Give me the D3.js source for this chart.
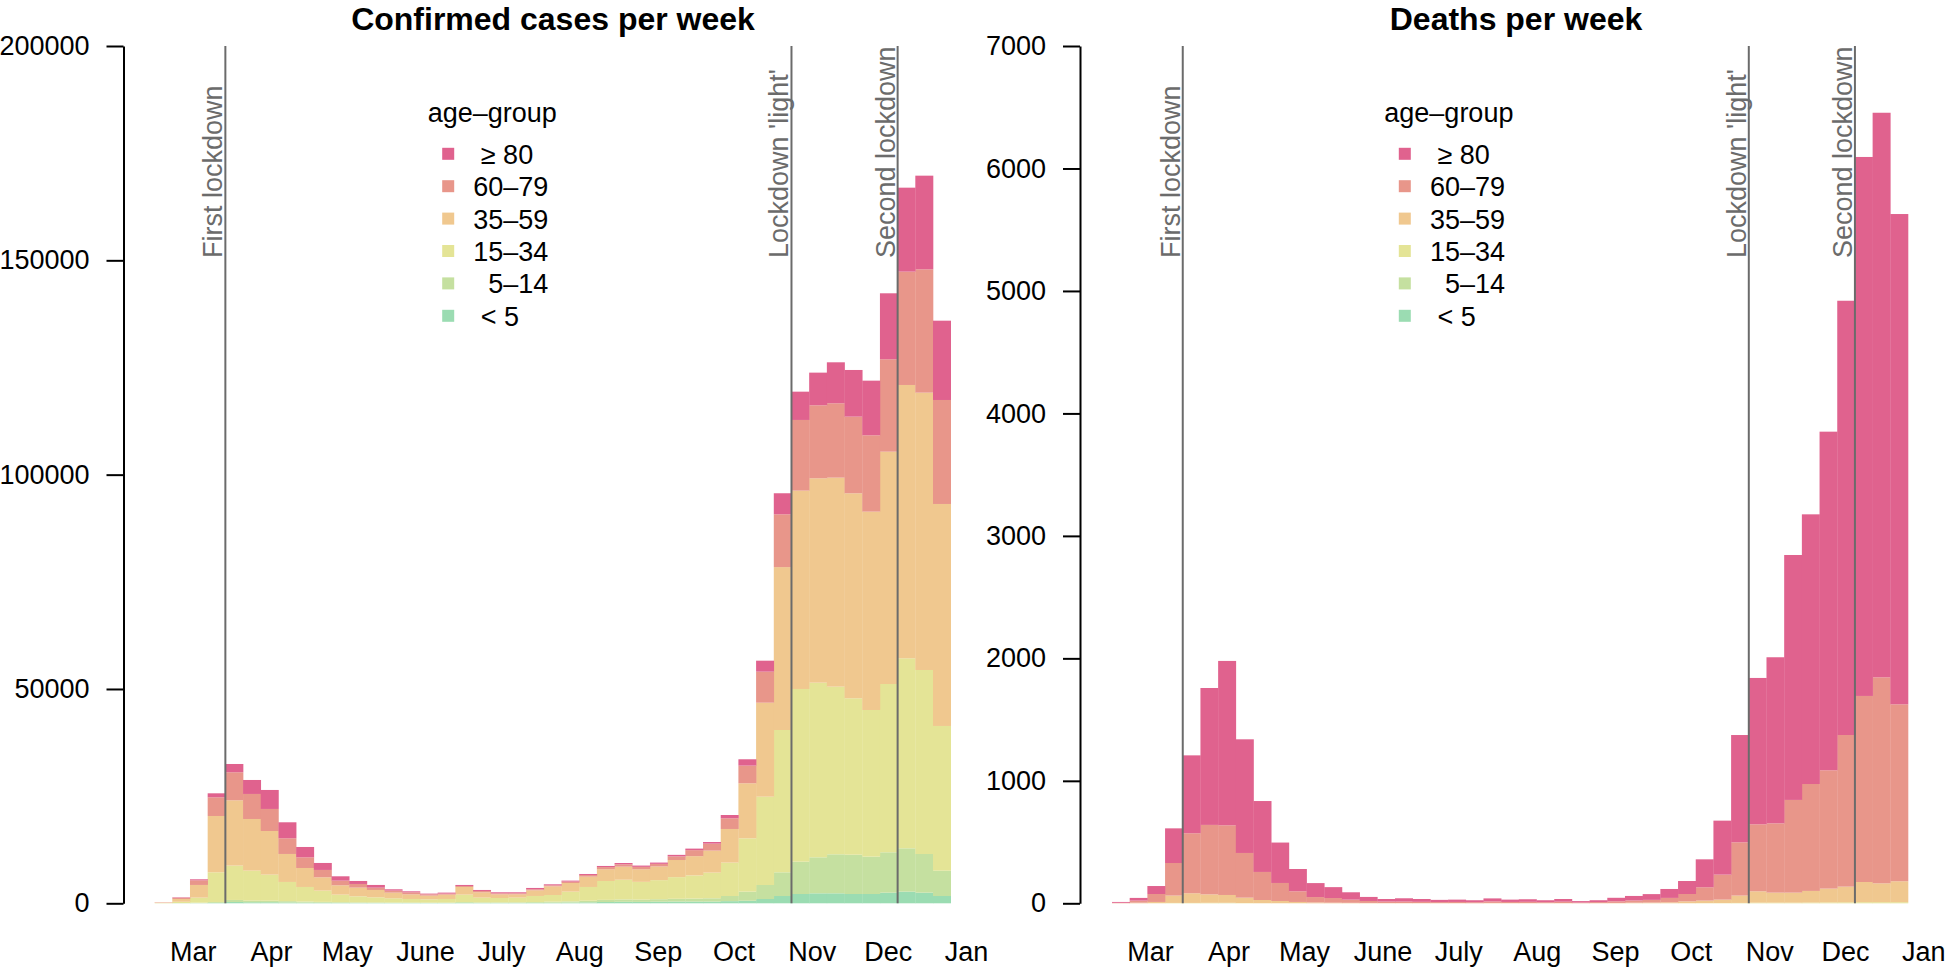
<!DOCTYPE html>
<html>
<head>
<meta charset="utf-8">
<script src="https://cdn.jsdelivr.net/npm/d3@7"></script>
<style>
  body { margin: 0; background: #fff; }
  svg text { font-family: "Liberation Sans", Arial, Helvetica, sans-serif; }
</style>
</head>
<body>
<svg id="chart" width="1946" height="969"></svg>
<script>

// calendar weeks 2020 (KW 9 .. KW 53)
var weeks = [9,10,11,12,13,14,15,16,17,18,19,20,21,22,23,24,25,26,27,28,29,30,31,
  32,33,34,35,36,37,38,39,40,41,42,43,44,45,46,47,48,49,50,51,52,53];

var ageGroups = ["u5", "a5_14", "a15_34", "a35_59", "a60_79", "a80"];
var ageLabels = [" < 5", "  5\u201314", "15\u201334", "35\u201359", "60\u201379", " \u2265 80"];
var ageColors = ["#9bdcb2", "#c5e0a0", "#e4e496", "#f0c88f", "#e8968a", "#e0628e"];

// confirmed cases per week, by age group
var casesU5 = [0,20,40,100,300,250,250,200,170,140,110,100,90,80,70,70,70,120,90,90,100,120,150,
  180,230,300,350,330,370,400,400,400,500,600,1000,1700,2170,2330,2330,2170,2170,2480,2720,2480,1700];
var cases5to14 = [10,40,115,210,480,370,350,300,230,190,150,120,110,100,100,90,100,180,130,130,140,180,220,
  270,370,500,550,520,580,650,700,770,1200,2120,3270,5530,7540,8400,9100,9170,8710,9420,10110,9020,5910];
var cases15to34 = [60,300,1165,6920,8010,7000,6090,4480,3410,2630,1760,1410,1200,990,840,770,840,1720,1100,1020,1080,1410,1570,
  2270,3210,4400,4600,4150,4450,5050,5400,5990,7790,12440,20600,33200,40290,40740,39110,36490,34220,39260,44330,42930,33760];
var cases35to59 = [100,650,2960,13140,15240,12050,10180,6530,4430,3110,2180,2030,1710,1320,1090,860,1010,1790,1250,860,780,1320,2030,
  2020,2410,2750,3050,2950,3200,4000,4500,5130,7850,12840,21930,38000,46270,47680,48760,47820,46270,54200,63760,64700,51790];
var cases60to79 = [40,290,1090,4360,6540,5840,5140,3660,2490,1710,1090,850,540,470,470,310,240,230,310,230,230,240,230,
  320,390,500,550,550,600,850,1400,1630,2490,4120,7240,12320,16490,17030,17350,17880,17810,21560,26440,28780,24260];
var cases80 = [20,100,230,930,1930,3260,4430,3730,2410,1630,1010,700,630,310,230,160,230,240,230,240,240,310,230,
  230,230,260,300,300,300,350,360,380,770,1480,2560,4910,6600,7620,9560,10890,12750,15390,19590,21840,18500];

// deaths per week, by age group
var deathsU5 = [0,0,0,0,0,0,0,0,0,0,0,0,0,0,0,0,0,0,0,0,0,0,0,
  0,0,0,0,0,0,0,0,0,0,0,0,0,0,0,0,0,0,0,0,0,0];
var deaths5to14 = [0,0,0,0,0,0,1,0,0,0,0,0,0,0,0,0,0,0,0,0,0,0,0,
  0,0,0,0,0,0,0,0,0,0,0,0,0,0,0,0,0,0,0,0,0,0];
var deaths15to34 = [0,0,1,3,3,4,3,2,1,1,1,0,0,0,0,0,0,0,0,0,0,0,0,
  0,0,0,0,0,0,1,1,1,1,2,2,3,5,5,5,6,7,8,9,9,9];
var deaths35to59 = [1,5,10,60,79,69,64,44,26,18,10,7,5,4,3,2,2,2,2,2,1,3,2,
  2,2,2,1,2,3,4,5,7,15,20,28,60,93,82,82,95,113,128,165,154,171];
var deaths60to79 = [3,17,65,266,490,567,569,365,229,147,87,44,38,26,16,12,12,10,8,9,8,12,9,
  10,7,11,5,8,13,18,22,36,60,109,204,435,547,566,757,873,966,1238,1519,1682,1445];
var deaths80 = [7,22,65,283,636,1118,1342,928,579,330,182,114,89,60,33,21,27,23,18,19,16,25,19,
  21,16,22,12,15,29,37,47,73,106,228,441,876,1195,1356,2000,2202,2765,3546,4401,4610,4003];

// month labels, placed in calendar-week units
var monthNames = ["Mar","Apr","May","June","July","Aug","Sep","Oct","Nov","Dec","Jan"];
var monthPos = [11.15,15.58,19.86,24.29,28.58,33.01,37.44,41.72,46.15,50.44,54.86];

// interventions (start of calendar week)
var lockdownWeeks = [13, 45, 51];
var lockdownLabels = ["First lockdown", "Lockdown 'light'", "Second lockdown"];

var caseTicks = [0, 50000, 100000, 150000, 200000];
var deathTicks = [0, 1000, 2000, 3000, 4000, 5000, 6000, 7000];


function buildRows(series) {
  return weeks.map((w, i) => {
    var row = {week: w};
    ageGroups.forEach((g, j) => row[g] = series[j][i]);
    return row;
  });
}

var panels = [
  {title: "Confirmed cases per week",
   rows: buildRows([casesU5, cases5to14, cases15to34, cases35to59, cases60to79, cases80]),
   ticks: caseTicks, axisX: 123.5, x0: 154.6, x1: 950.7, titleX: 553, legendX: 427.7},
  {title: "Deaths per week",
   rows: buildRows([deathsU5, deaths5to14, deaths15to34, deaths35to59, deaths60to79, deaths80]),
   ticks: deathTicks, axisX: 1080, x0: 1112, x1: 1908, titleX: 1516, legendX: 1384.3}
];

var yTop = 46, yBottom = 903.3;
var fontSize = 27;
var svg = d3.select("#chart");
var stack = d3.stack().keys(ageGroups);

panels.forEach(p => {

  var x = d3.scaleLinear()
    .domain([weeks[0], weeks[weeks.length - 1] + 1])
    .range([p.x0, p.x1]);

  var y = d3.scaleLinear()
    .domain([0, d3.max(p.ticks)])
    .range([yBottom, yTop]);

  var g = svg.append("g");

  // stacked bars
  var layers = g.selectAll(".layer")
    .data(stack(p.rows))
    .enter().append("g")
    .attr("class", "layer")
    .attr("fill", (d, i) => ageColors[i]);

  layers.selectAll("rect")
    .data(d => d)
    .enter().append("rect")
    .attr("x", d => x(d.data.week))
    .attr("width", d => x(d.data.week + 1) - x(d.data.week) + 0.3)
    .attr("y", d => y(d[1]))
    .attr("height", d => Math.max(0, y(d[0]) - y(d[1])));

  // lockdown markers
  g.selectAll(".lockline")
    .data(lockdownWeeks)
    .enter().append("line")
    .attr("class", "lockline")
    .attr("x1", d => x(d)).attr("x2", d => x(d))
    .attr("y1", y(0)).attr("y2", yTop)
    .attr("stroke", "#6b6b6b")
    .attr("stroke-width", 2);

  g.selectAll(".locklabel")
    .data(lockdownWeeks)
    .enter().append("text")
    .attr("class", "locklabel")
    .attr("transform", d => `translate(${x(d) - 3},258) rotate(-90)`)
    .attr("fill", "#6b6b6b")
    .style("font-size", fontSize + "px")
    .text((d, i) => lockdownLabels[i]);

  // y axis
  var yAxis = g.append("g")
    .attr("transform", `translate(${p.axisX},0)`)
    .call(d3.axisLeft(y).tickValues(p.ticks).tickFormat(d3.format("d"))
      .tickSize(17).tickSizeOuter(0).tickPadding(17));
  yAxis.selectAll("path, line").attr("stroke", "#000").attr("stroke-width", 2);
  yAxis.selectAll("text").attr("fill", "#000").style("font-size", fontSize + "px");

  // month labels
  var xAxis = g.append("g")
    .attr("transform", `translate(0,${yBottom + 36})`)
    .call(d3.axisBottom(x).tickValues(monthPos).tickFormat((d, i) => monthNames[i]).tickSize(0));
  xAxis.select(".domain").remove();
  xAxis.selectAll("text").attr("fill", "#000").style("font-size", fontSize + "px");

  // title
  g.append("text")
    .attr("x", p.titleX).attr("y", 30)
    .attr("text-anchor", "middle")
    .style("font-size", "32px").style("font-weight", "bold")
    .text(p.title);

  // legend
  var leg = g.append("g").attr("transform", `translate(${p.legendX},0)`);
  leg.append("text")
    .attr("y", 122)
    .style("font-size", fontSize + "px")
    .text("age\u2013group");

  var items = leg.selectAll(".item")
    .data(d3.reverse(ageGroups.map((k, i) => i)))
    .enter().append("g")
    .attr("class", "item")
    .attr("transform", (d, j) => `translate(0,${153.8 + j * 32.4})`);
  items.append("rect")
    .attr("x", 14.5).attr("y", -6).attr("width", 12).attr("height", 12)
    .attr("fill", d => ageColors[d]);
  items.append("text")
    .attr("x", 45.6).attr("y", 10)
    .attr("xml:space", "preserve")
    .style("white-space", "pre")
    .style("font-size", fontSize + "px")
    .text(d => ageLabels[d]);
});

</script>
</body>
</html>
